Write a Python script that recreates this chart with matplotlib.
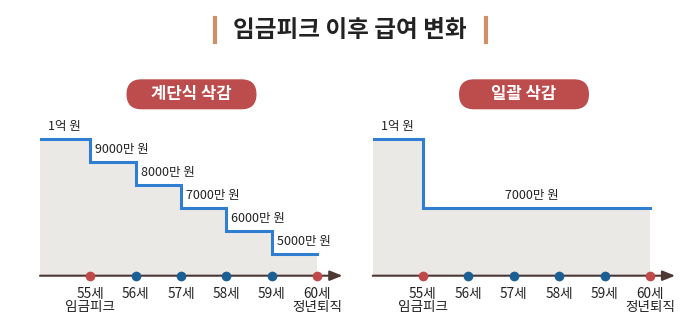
import matplotlib
matplotlib.use('Agg')
import matplotlib.pyplot as plt
from matplotlib.patches import FancyBboxPatch
from matplotlib.lines import Line2D
from matplotlib.transforms import IdentityTransform

plt.rcParams['font.family'] = ['Noto Sans CJK KR', 'DejaVu Sans']

# ages on the axis and their labels
ages = [55, 56, 57, 58, 59, 60]
age_labels = ['55세', '56세', '57세', '58세', '59세', '60세']
age_notes = {55: '임금피크', 60: '정년퇴직'}
start_age = 53.9

# salary (만 원) per year: stepwise cut vs. one-time cut
step_edges = [53.9, 55, 56, 57, 58, 59, 60]
step_pay = [10000, 9000, 8000, 7000, 6000, 5000]
step_texts = ['1억 원', '9000만 원', '8000만 원', '7000만 원', '6000만 원', '5000만 원']

flat_edges = [53.9, 55, 60]
flat_pay = [10000, 7000]
flat_texts = ['1억 원', '7000만 원']

title = '임금피크 이후 급여 변화'
panel_titles = ['계단식 삭감', '일괄 삭감']

BASE = 4070
TOP = 11100
W, H = 700, 332

fill_c = '#ebe9e6'
line_c = '#2f7ed2'
axis_c = '#4e3835'
red_c = '#c04a4a'
blue_c = '#1b5f94'
pill_c = '#bd4c4c'
bar_c = '#cf9068'

fig = plt.figure(figsize=(7, 3.32), dpi=100)


def draw_panel(left_px, edges, pay, texts, pill_x, pill_text, centered_last=False):
    ax = fig.add_axes([left_px / W, (H - 275.7) / H, 307 / W, 162.1 / H])
    ax.set_xlim(start_age, start_age + 6.75)
    ax.set_ylim(BASE, TOP)
    ax.axis('off')

    xs = list(edges)
    ys = list(pay) + [pay[-1]]
    ax.fill_between(xs, BASE, ys, step='post', color=fill_c, lw=0, zorder=1)
    ax.step(xs, ys, where='post', color=line_c, lw=2.2, zorder=2,
            solid_joinstyle='miter')

    # axis with arrow head
    ax.annotate('', xy=(60.55, BASE), xytext=(start_age, BASE),
                arrowprops=dict(arrowstyle='-|>,head_length=0.75,head_width=0.3',
                                color=axis_c, lw=1.5, shrinkA=0, shrinkB=0,
                                mutation_scale=10),
                annotation_clip=False, zorder=3)

    for a, lab in zip(ages, age_labels):
        c = red_c if a in age_notes else blue_c
        ax.plot(a, BASE, 'o', ms=7, color=c, mec='none', zorder=4, clip_on=False)
        ax.annotate(lab, xy=(a, BASE), xytext=(0, -13.5), textcoords='offset points',
                    ha='center', va='center', fontsize=9.8, color='#222222')
        if a in age_notes:
            ax.annotate(age_notes[a], xy=(a, BASE), xytext=(0, -22.8),
                        textcoords='offset points', ha='center', va='center',
                        fontsize=9.8, color='#222222')

    # value labels above each segment
    for i, (x0, v, t) in enumerate(zip(edges[:-1], pay, texts)):
        if centered_last and i == len(pay) - 1:
            ax.annotate(t, xy=((x0 + edges[-1]) / 2, v), xytext=(-3.5, 9),
                        textcoords='offset points', ha='center', va='center',
                        fontsize=9, color='#222222')
        else:
            dx = 5.8 if i == 0 else 3.6
            ax.annotate(t, xy=(x0, v), xytext=(dx, 9), textcoords='offset points',
                        ha='left', va='center', fontsize=9, color='#222222')

    # rounded header pill
    pill = FancyBboxPatch((pill_x - 65, H - 109.3), 130, 30,
                          boxstyle='round,pad=0,rounding_size=15',
                          transform=IdentityTransform(), fc=pill_c, ec='none')
    fig.add_artist(pill)
    fig.text(pill_x / W, 1 - 94.5 / H, pill_text, ha='center', va='center',
             fontsize=12, fontweight='heavy', color='white')
    return ax


draw_panel(40, step_edges, step_pay, step_texts, 191.5, panel_titles[0])
draw_panel(372.7, flat_edges, flat_pay, flat_texts, 524, panel_titles[1],
           centered_last=True)

fig.text(0.5, 1 - 30 / H, title, ha='center', va='center', fontsize=17,
         fontweight='heavy', color='#222222')
for bx in (214.5, 486.5):
    fig.add_artist(Line2D([bx / W, bx / W], [1 - 18 / H, 1 - 42 / H],
                          transform=fig.transFigure, color=bar_c, lw=3))

fig.savefig('out.png', dpi=100)
